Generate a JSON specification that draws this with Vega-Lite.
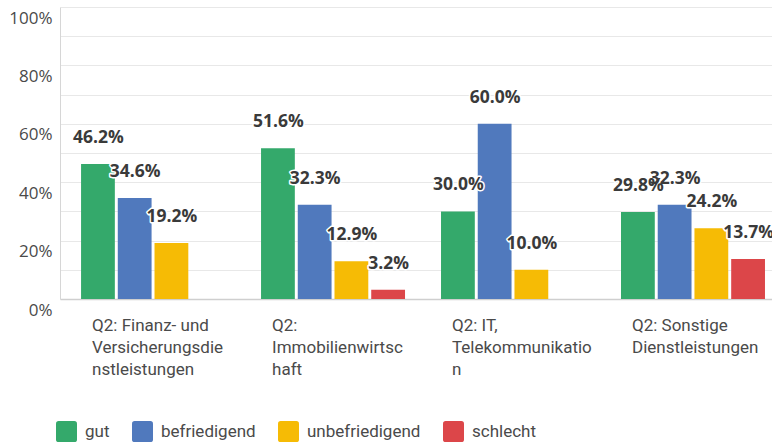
{
  "$schema": "https://vega.github.io/schema/vega-lite/v6.json",
  "width": 712,
  "height": 292,
  "autosize": "none",
  "padding": {"left": 60, "top": 7, "right": 0, "bottom": 148},
  "background": "#ffffff",
  "data": {
    "values": [
      {"cat": "Q2: Finanz- und|Versicherungsdie|nstleistungen", "rating": "gut", "value": 0.462},
      {"cat": "Q2: Finanz- und|Versicherungsdie|nstleistungen", "rating": "befriedigend", "value": 0.346},
      {"cat": "Q2: Finanz- und|Versicherungsdie|nstleistungen", "rating": "unbefriedigend", "value": 0.192},
      {"cat": "Q2:|Immobilienwirtsc|haft", "rating": "gut", "value": 0.516},
      {"cat": "Q2:|Immobilienwirtsc|haft", "rating": "befriedigend", "value": 0.323},
      {"cat": "Q2:|Immobilienwirtsc|haft", "rating": "unbefriedigend", "value": 0.129},
      {"cat": "Q2:|Immobilienwirtsc|haft", "rating": "schlecht", "value": 0.032},
      {"cat": "Q2: IT,|Telekommunikatio|n", "rating": "gut", "value": 0.30},
      {"cat": "Q2: IT,|Telekommunikatio|n", "rating": "befriedigend", "value": 0.60},
      {"cat": "Q2: IT,|Telekommunikatio|n", "rating": "unbefriedigend", "value": 0.10},
      {"cat": "Q2: Sonstige|Dienstleistungen", "rating": "gut", "value": 0.298},
      {"cat": "Q2: Sonstige|Dienstleistungen", "rating": "befriedigend", "value": 0.323},
      {"cat": "Q2: Sonstige|Dienstleistungen", "rating": "unbefriedigend", "value": 0.242},
      {"cat": "Q2: Sonstige|Dienstleistungen", "rating": "schlecht", "value": 0.137}
    ]
  },
  "encoding": {
    "x": {
      "field": "cat", "type": "nominal", "sort": null,
      "scale": {"paddingInner": 0.2, "paddingOuter": 0.078, "align": 0.75},
      "axis": {
        "title": null, "labelAngle": 0, "labelAlign": "left", "labelBaseline": "top",
        "labelOffset": -61, "labelPadding": 18, "ticks": false,
        "labelExpr": "split(datum.label, '|')",
        "labelFont": "Roboto", "labelFontSize": 17, "labelColor": "#4a4a4a",
        "labelLineHeight": 22, "labelLimit": 200,
        "domain": true, "domainColor": "#cfcfcf", "domainWidth": 1.5, "grid": false
      }
    },
    "xOffset": {
      "field": "rating", "type": "nominal",
      "scale": {"domain": ["gut", "befriedigend", "unbefriedigend", "schlecht"], "paddingInner": 0.08, "paddingOuter": 0}
    },
    "y": {
      "field": "value", "type": "quantitative",
      "scale": {"domain": [0, 1], "nice": false},
      "axis": {
        "title": null, "format": ".0%",
        "values": [0, 0.1, 0.2, 0.3, 0.4, 0.5, 0.6, 0.7, 0.8, 0.9, 1],
        "labelExpr": "round(datum.value * 100) % 20 == 0 ? datum.label : ''",
        "ticks": false, "labelPadding": 8, "labelOffset": 11,
        "labelFont": "Open Sans", "labelFontSize": 17, "labelColor": "#4a4a4a",
        "gridColor": "#e8e8e8", "gridWidth": 1,
        "domain": true, "domainColor": "#d6d6d6", "domainWidth": 1
      }
    }
  },
  "layer": [
    {
      "mark": {"type": "bar", "stroke": null},
      "encoding": {
        "color": {
          "field": "rating", "type": "nominal",
          "scale": {
            "domain": ["gut", "befriedigend", "unbefriedigend", "schlecht"],
            "range": ["#34a96b", "#5079bd", "#f6bb05", "#dc4649"]
          },
          "legend": {
            "title": null, "orient": "none", "direction": "horizontal",
            "legendX": -4, "legendY": 414,
            "symbolType": "M -0.75,-1 L 0.75,-1 Q 1,-1 1,-0.75 L 1,0.75 Q 1,1 0.75,1 L -0.75,1 Q -1,1 -1,0.75 L -1,-0.75 Q -1,-1 -0.75,-1 Z",
            "symbolSize": 441, "symbolStrokeWidth": 0, "symbolOpacity": 1,
            "labelFont": "Roboto", "labelFontSize": 17, "labelColor": "#4a4a4a",
            "labelOffset": 8, "columnPadding": 22
          }
        }
      }
    },
    {
      "mark": {"type": "text", "baseline": "middle", "align": "center", "dy": -26, "dx": 0.5,
               "font": "Open Sans", "fontWeight": "bold", "fontSize": 17.5,
               "stroke": "#ffffff", "strokeWidth": 3, "strokeJoin": "round", "fill": "#ffffff"},
      "encoding": {"text": {"field": "value", "type": "quantitative", "format": ".1%"}}
    },
    {
      "mark": {"type": "text", "baseline": "middle", "align": "center", "dy": -26, "dx": 0.5,
               "font": "Open Sans", "fontWeight": "bold", "fontSize": 17.5, "fill": "#3a3a3a"},
      "encoding": {"text": {"field": "value", "type": "quantitative", "format": ".1%"}}
    }
  ],
  "config": {"view": {"stroke": null}}
}
